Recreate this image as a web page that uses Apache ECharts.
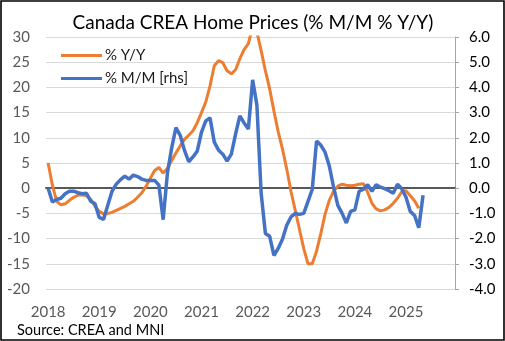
<!DOCTYPE html>
<html>
<head>
<meta charset="utf-8">
<script src="https://cdn.jsdelivr.net/npm/echarts@6/dist/echarts.min.js"></script>
<style>
  html, body { margin: 0; padding: 0; background: #fff; }
  #chart { width: 505px; height: 341px; }
</style>
</head>
<body>
<div id="chart"></div>
<script>
// Monthly categories, Jan 2018 .. Dec 2025
const years = ['2018', '2019', '2020', '2021', '2022', '2023', '2024', '2025'];
const months = [];
years.forEach(y => { for (let m = 1; m <= 12; m++) months.push(y + '-' + String(m).padStart(2, '0')); });

// % Y/Y (left axis), Jan 2018 onward
const yoy = [
  5.0, 0.6, -2.6, -3.3, -3.1, -2.4, -1.8, -1.4, -1.3, -1.5, -2.2, -3.6,
  -4.6, -5.1, -5.0, -4.8, -4.4, -4.0, -3.6, -3.1, -2.6, -1.8, -0.9, 0.4,
  2.0, 3.5, 4.1, 3.0, 3.9, 5.5, 7.0, 8.4, 9.7, 10.5, 11.4, 13.0,
  15.0, 17.1, 20.3, 24.3, 25.3, 24.9, 23.3, 22.7, 23.5, 25.7, 27.5, 28.7,
  32.0, 31.0, 27.3, 23.3, 19.7, 15.3, 11.2, 7.8, 3.8, -0.6, -4.4, -8.2,
  -12.0, -15.0, -15.0, -12.5, -9.0, -5.2, -2.4, -0.6, 0.4, 0.8, 0.6, 0.5,
  0.6, 0.8, 0.9, -0.8, -3.0, -4.1, -4.5, -4.3, -3.8, -3.0, -2.0, -0.7,
  -0.5, -1.5, -2.5, -4.0
];

// % M/M (right axis), Jan 2018 onward
const mom = [
  0.0, -0.55, -0.45, -0.4, -0.22, -0.12, -0.12, -0.18, -0.22, -0.2, -0.52, -0.62,
  -1.16, -1.24, -0.68, -0.12, 0.16, 0.34, 0.48, 0.36, 0.52, 0.46, 0.36, 0.31,
  0.31, 0.31, 0.12, -1.25, 0.6, 1.6, 2.4, 2.1, 1.5, 1.05, 1.24, 1.47,
  2.23, 2.67, 2.79, 1.83, 1.51, 1.35, 1.08, 1.35, 2.15, 2.87, 2.59, 2.35,
  4.3, 3.3, -0.2, -1.8, -1.91, -2.67, -2.39, -2.03, -1.47, -1.14, -1.0, -1.04,
  -1.0, -0.52, -0.04, 1.87, 1.71, 1.43, 0.88, 0.04, -0.68, -1.0, -1.38, -0.92,
  -0.86, -0.12, -0.04, 0.14, -0.12, 0.14, 0.04, -0.02, -0.1, -0.2, 0.16, -0.02,
  -0.36, -0.92, -1.08, -1.57, -0.28
];

const FONT = 'Lato';
const chart = echarts.init(document.getElementById('chart'), null, { renderer: 'canvas' });

chart.setOption({
  animation: false,
  backgroundColor: '#fff',
  textStyle: { fontFamily: FONT },
  title: {
    text: 'Canada CREA Home Prices (% M/M % Y/Y)',
    left: 248, top: 8, textAlign: 'center',
    textStyle: { fontFamily: FONT, fontSize: 19, fontWeight: 'normal', color: '#000' }
  },
  graphic: [{
    type: 'rect', silent: true, z: 100,
    shape: { x: 1, y: 1, width: 503, height: 339 },
    style: { fill: 'none', stroke: '#000', lineWidth: 1.6 }
  }, {
    type: 'text', left: 17, top: 323,
    style: { text: 'Source: CREA and MNI', fill: '#000', font: '14.5px Lato' }
  }],
  legend: {
    orient: 'vertical', left: 56, top: 43,
    icon: 'rect', itemWidth: 41, itemHeight: 3, itemGap: 8,
    textStyle: { fontFamily: FONT, fontSize: 15, color: '#1a1a1a', padding: [0, 0, 0, -2] },
    data: ['% Y/Y', '% M/M [rhs]']
  },
  grid: { left: 46, right: 50, top: 37, bottom: 52, containLabel: false },
  xAxis: [{
    type: 'category', data: months, boundaryGap: true,
    axisLine: { show: false, onZero: false },
    axisTick: { show: false },
    axisLabel: {
      interval: 11, margin: 16, color: '#595959', fontFamily: FONT, fontSize: 15,
      formatter: v => v.endsWith('-01') ? v.slice(0, 4) : ''
    },
    splitLine: { show: false }
  }, {
    type: 'category', data: months, boundaryGap: true,
    axisLine: { show: true, onZero: true, lineStyle: { color: '#595959', width: 2 } },
    axisTick: { show: false }, axisLabel: { show: false }, splitLine: { show: false }
  }],
  yAxis: [{
    type: 'value', min: -20, max: 30, interval: 5,
    axisLine: { show: false }, axisTick: { show: false },
    axisLabel: { margin: 16, color: '#595959', fontFamily: FONT, fontSize: 15 },
    splitLine: { show: true, lineStyle: { color: '#d9d9d9', width: 1 } }
  }, {
    type: 'value', min: -4, max: 6, interval: 1, position: 'right',
    axisLine: { show: true, lineStyle: { color: '#a6a6a6', width: 1 } },
    axisTick: { show: true, length: 4, lineStyle: { color: '#a6a6a6' } },
    axisLabel: { margin: 14, color: '#000', fontFamily: FONT, fontSize: 15, formatter: v => v.toFixed(1) },
    splitLine: { show: false }
  }],
  series: [{
    name: '% Y/Y', type: 'line', xAxisIndex: 0, yAxisIndex: 0, data: yoy,
    showSymbol: false, symbol: 'none', z: 2, clip: true,
    lineStyle: { color: '#ED7D31', width: 3 }, itemStyle: { color: '#ED7D31' }
  }, {
    name: '% M/M [rhs]', type: 'line', xAxisIndex: 0, yAxisIndex: 1, data: mom,
    showSymbol: false, symbol: 'none', z: 3, clip: true,
    lineStyle: { color: '#4472C4', width: 3.5 }, itemStyle: { color: '#4472C4' }
  }]
});
</script>
</body>
</html>
